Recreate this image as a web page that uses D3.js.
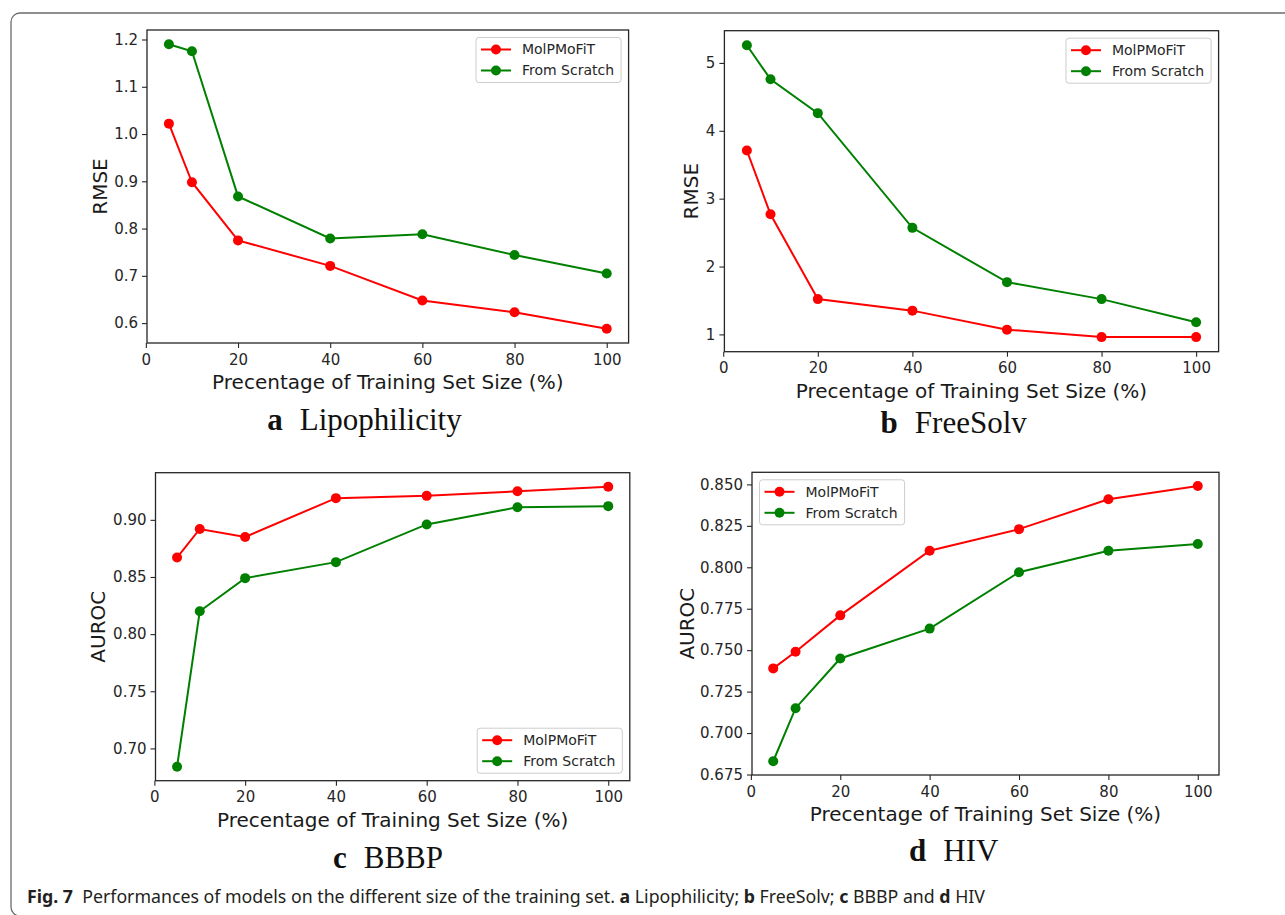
<!DOCTYPE html>
<html>
<head>
<meta charset="utf-8">
<script src="https://cdn.jsdelivr.net/npm/d3@7"></script>
<style>
  body { margin: 0; background: #fff; }
  svg { display: block; }
</style>
</head>
<body>
<svg width="1285" height="915"></svg>
<script>
// data
const trainSize = [5, 10, 20, 40, 60, 80, 100];
const seriesNames = ['MolPMoFiT', 'From Scratch'];
const seriesColors = ['#ff0000', '#008000'];

const lipoMolpmofit = [1.022, 0.898, 0.775, 0.721, 0.648, 0.623, 0.588];
const lipoScratch   = [1.190, 1.175, 0.868, 0.779, 0.788, 0.744, 0.705];

const freesolvMolpmofit = [3.71, 2.77, 1.52, 1.35, 1.07, 0.96, 0.96];
const freesolvScratch   = [5.26, 4.76, 4.26, 2.57, 1.77, 1.52, 1.18];

const bbbpMolpmofit = [0.867, 0.892, 0.885, 0.919, 0.921, 0.925, 0.929];
const bbbpScratch   = [0.684, 0.820, 0.849, 0.863, 0.896, 0.911, 0.912];

const hivMolpmofit = [0.739, 0.749, 0.771, 0.810, 0.823, 0.841, 0.849];
const hivScratch   = [0.683, 0.715, 0.745, 0.763, 0.797, 0.810, 0.814];

const xTicks = [0, 20, 40, 60, 80, 100];
const lipoTicks = [0.6, 0.7, 0.8, 0.9, 1.0, 1.1, 1.2];
const freesolvTicks = [1, 2, 3, 4, 5];
const bbbpTicks = [0.70, 0.75, 0.80, 0.85, 0.90];
const hivTicks = [0.675, 0.700, 0.725, 0.750, 0.775, 0.800, 0.825, 0.850];

const xLabel = 'Precentage of Training Set Size (%)';

const svg = d3.select('svg');
const width = +svg.attr('width');
const height = +svg.attr('height');

// outer rounded frame
svg.append('rect')
    .attr('x', 11).attr('y', 13)
    .attr('width', 1300).attr('height', 903)
    .attr('rx', 9)
    .attr('fill', 'none')
    .attr('stroke', '#6b6b6b')
    .attr('stroke-width', 1.3);

const panels = [
    { letter: 'a', name: 'Lipophilicity', yLabel: 'RMSE', values: [lipoMolpmofit, lipoScratch],
      yTicks: lipoTicks, fmt: '.1f', left: 147, right: 628.6, top: 30, bottom: 343,
      legend: 'top-right', yLabelX: 107, capX: 364.5, capY: 430 },
    { letter: 'b', name: 'FreeSolv', yLabel: 'RMSE', values: [freesolvMolpmofit, freesolvScratch],
      yTicks: freesolvTicks, fmt: 'd', left: 724.4, right: 1218.6, top: 30.7, bottom: 351.7,
      legend: 'top-right', yLabelX: 697.6, capX: 953.7, capY: 433 },
    { letter: 'c', name: 'BBBP', yLabel: 'AUROC', values: [bbbpMolpmofit, bbbpScratch],
      yTicks: bbbpTicks, fmt: '.2f', left: 155.5, right: 629.8, top: 472.7, bottom: 780.7,
      legend: 'bottom-right', yLabelX: 105, capX: 388, capY: 868 },
    { letter: 'd', name: 'HIV', yLabel: 'AUROC', values: [hivMolpmofit, hivScratch],
      yTicks: hivTicks, fmt: '.3f', left: 752, right: 1219, top: 472.3, bottom: 775,
      legend: 'top-left', yLabelX: 693.5, capX: 953.7, capY: 861 }
];

const drawPanel = p => {
    const g = svg.append('g');

    const xScale = d3.scaleLinear()
        .domain([0.25, 104.75])
        .range([p.left, p.right]);

    // matplotlib style 5% margins
    const [lo, hi] = d3.extent(p.values.flat());
    const pad = (hi - lo) * 0.05;
    const yScale = d3.scaleLinear()
        .domain([lo - pad, hi + pad])
        .range([p.bottom, p.top]);

    const xAxisG = g.append('g')
        .attr('transform', `translate(0, ${p.bottom})`)
        .call(d3.axisBottom(xScale).tickValues(xTicks).tickSize(5).tickPadding(6));
    const yAxisG = g.append('g')
        .attr('transform', `translate(${p.left}, 0)`)
        .call(d3.axisLeft(yScale).tickValues(p.yTicks).tickFormat(d3.format(p.fmt)).tickSize(5).tickPadding(4));

    [xAxisG, yAxisG].forEach(ax => {
        ax.select('.domain').remove();
        ax.attr('font-size', null).attr('font-family', null);
        ax.selectAll('.tick line').attr('stroke', '#262626').attr('stroke-width', 1.1);
        ax.selectAll('.tick text')
            .attr('fill', '#262626')
            .style('font-family', '"DejaVu Sans", sans-serif')
            .style('font-size', '15px');
    });

    // axes box
    g.append('rect')
        .attr('x', p.left).attr('y', p.top)
        .attr('width', p.right - p.left).attr('height', p.bottom - p.top)
        .attr('fill', 'none')
        .attr('stroke', '#262626')
        .attr('stroke-width', 1.3);

    const line = d3.line()
        .x((d, i) => xScale(trainSize[i]))
        .y(d => yScale(d));

    p.values.forEach((vals, k) => {
        g.append('path')
            .datum(vals)
            .attr('d', line)
            .attr('fill', 'none')
            .attr('stroke', seriesColors[k])
            .attr('stroke-width', 2);
        g.selectAll(null).data(vals)
            .enter().append('circle')
                .attr('cx', (d, i) => xScale(trainSize[i]))
                .attr('cy', d => yScale(d))
                .attr('r', 5)
                .attr('fill', seriesColors[k]);
    });

    // legend
    const legG = g.append('g');
    const legBox = legG.append('rect')
        .attr('rx', 3)
        .attr('fill', 'rgba(255,255,255,0.8)')
        .attr('stroke', '#cccccc')
        .attr('stroke-width', 1);
    const texts = [];
    seriesNames.forEach((name, k) => {
        const ry = 12 + k * 21;
        legG.append('line')
            .attr('x1', 5).attr('x2', 35)
            .attr('y1', ry).attr('y2', ry)
            .attr('stroke', seriesColors[k])
            .attr('stroke-width', 2);
        legG.append('circle')
            .attr('cx', 20).attr('cy', ry).attr('r', 5)
            .attr('fill', seriesColors[k]);
        texts.push(legG.append('text')
            .attr('x', 46).attr('y', ry)
            .attr('dy', '0.35em')
            .attr('fill', '#262626')
            .style('font-family', '"DejaVu Sans", sans-serif')
            .style('font-size', '14px')
            .text(name));
    });
    const legW = 46 + d3.max(texts, t => t.node().getComputedTextLength()) + 7;
    const legH = 45;
    legBox.attr('width', legW).attr('height', legH);
    const inset = 7.5;
    let lx, ly;
    if (p.legend === 'top-right') { lx = p.right - inset - legW; ly = p.top + inset; }
    if (p.legend === 'bottom-right') { lx = p.right - inset - legW; ly = p.bottom - inset - legH; }
    if (p.legend === 'top-left') { lx = p.left + inset; ly = p.top + inset; }
    legG.attr('transform', `translate(${lx}, ${ly})`);

    // axis labels
    g.append('text')
        .attr('x', (p.left + p.right) / 2)
        .attr('y', p.bottom + 46)
        .attr('text-anchor', 'middle')
        .attr('fill', '#1a1a1a')
        .style('font-family', '"DejaVu Sans", sans-serif')
        .style('font-size', '20px')
        .text(xLabel);

    g.append('text')
        .attr('transform', `translate(${p.yLabelX}, ${(p.top + p.bottom) / 2}) rotate(-90)`)
        .attr('text-anchor', 'middle')
        .attr('fill', '#1a1a1a')
        .style('font-family', '"DejaVu Sans", sans-serif')
        .style('font-size', '20px')
        .text(p.yLabel);

    // panel caption
    const cap = g.append('text')
        .attr('x', p.capX)
        .attr('y', p.capY)
        .attr('text-anchor', 'middle')
        .attr('fill', '#111')
        .style('font-family', '"Liberation Serif", "Times New Roman", serif')
        .style('font-size', '31px');
    cap.append('tspan').style('font-weight', 'bold').text(p.letter);
    cap.append('tspan').attr('dx', 17).text(p.name);
};

panels.forEach(drawPanel);

// figure caption
const captionParts = [
    { t: 'Fig. 7', b: true },
    { t: '\u00a0\u00a0Performances of models on the different size of the training set. ', b: false },
    { t: 'a', b: true }, { t: ' Lipophilicity; ', b: false },
    { t: 'b', b: true }, { t: ' FreeSolv; ', b: false },
    { t: 'c', b: true }, { t: ' BBBP and ', b: false },
    { t: 'd', b: true }, { t: ' HIV', b: false }
];
const caption = svg.append('text')
    .attr('x', 27)
    .attr('y', 903)
    .attr('fill', '#231f20')
    .style('font-family', '"Noto Sans", "Open Sans", sans-serif')
    .style('font-size', '17.5px');
captionParts.forEach(part => {
    caption.append('tspan')
        .style('font-weight', part.b ? 'bold' : 'normal')
        .text(part.t);
});
caption.attr('textLength', 958).attr('lengthAdjust', 'spacingAndGlyphs');
</script>
</body>
</html>
